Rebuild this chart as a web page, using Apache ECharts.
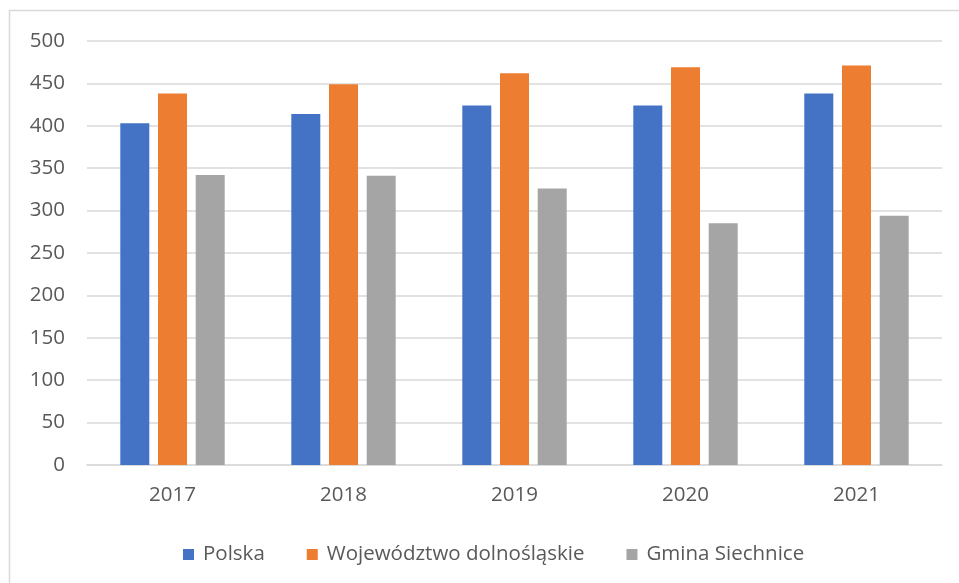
<!DOCTYPE html>
<html>
<head>
<meta charset="utf-8">
<script src="https://cdn.jsdelivr.net/npm/echarts@6/dist/echarts.min.js"></script>
<style>
html,body{margin:0;padding:0;background:#fff;}
#c{width:959px;height:583px;}
</style>
</head>
<body>
<div id="c"></div>
<script>
const categories = ['2017', '2018', '2019', '2020', '2021'];
const polska = [403, 414, 424, 424, 438];
const wojewodztwo = [438, 449, 462, 469, 471];
const gmina = [342, 341, 326, 285, 294];
const seriesNames = ['Polska', 'Województwo dolnośląskie', 'Gmina Siechnice'];
const colors = ['#4472C4', '#ED7D31', '#A5A5A5'];

const FONT = '"Open Sans", "Noto Sans", sans-serif';
const chart = echarts.init(document.getElementById('c'), null, {renderer: 'canvas'});
const mk = (name, data, color) => ({
  name: name,
  type: 'bar',
  data: data,
  barWidth: 29,
  barGap: '30%',
  itemStyle: {color: color},
  emphasis: {disabled: true}
});
chart.setOption({
  animation: false,
  backgroundColor: '#ffffff',
  color: colors,
  textStyle: {fontFamily: FONT},
  graphic: [{
    type: 'rect',
    shape: {x: 9.5, y: 10.5, width: 1000, height: 1000},
    style: {fill: 'none', stroke: '#d9d9d9', lineWidth: 1.5},
    silent: true,
    z: -1
  }],
  grid: {left: 87, right: 17, top: 41, bottom: 118, containLabel: false},
  legend: {
    data: seriesNames,
    top: 539,
    left: 178,
    itemWidth: 11,
    itemHeight: 11,
    itemGap: 42,
    icon: 'rect',
    textStyle: {color: '#595959', fontSize: 20.5, fontFamily: FONT, padding: [0, 0, 0, 4]}
  },
  xAxis: {
    type: 'category',
    data: categories,
    axisLine: {show: true, lineStyle: {color: '#d9d9d9', width: 1.5}},
    axisTick: {show: false},
    axisLabel: {color: '#595959', fontSize: 20.5, fontFamily: FONT, margin: 20}
  },
  yAxis: {
    type: 'value',
    min: 0,
    max: 500,
    interval: 50,
    axisLine: {show: false},
    axisTick: {show: false},
    splitLine: {lineStyle: {color: '#d9d9d9', width: 1.5}},
    axisLabel: {color: '#595959', fontSize: 20.5, fontFamily: FONT, margin: 22}
  },
  series: [
    mk(seriesNames[0], polska, colors[0]),
    mk(seriesNames[1], wojewodztwo, colors[1]),
    mk(seriesNames[2], gmina, colors[2])
  ]
});
</script>
</body>
</html>
